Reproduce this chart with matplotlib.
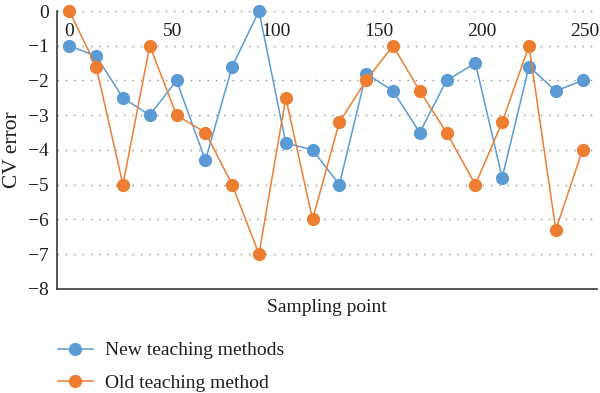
import matplotlib
matplotlib.use("Agg")
import matplotlib.pyplot as plt

# sampling points and CV error for the two series
sampling_points = [0, 13, 26, 39, 52, 66, 79, 92, 105, 118,
                   131, 144, 157, 170, 183, 197, 210, 223, 236, 249]
new_method = [-1, -1.3, -2.5, -3, -2, -4.3, -1.6, 0, -3.8, -4,
              -5, -1.8, -2.3, -3.5, -2, -1.5, -4.8, -1.6, -2.3, -2]
old_method = [0, -1.6, -5, -1, -3, -3.5, -5, -7, -2.5, -6,
              -3.2, -2, -1, -2.3, -3.5, -5, -3.2, -1, -6.3, -4]
x_ticks = [0, 50, 100, 150, 200, 250]
y_ticks = [0, -1, -2, -3, -4, -5, -6, -7, -8]

BLUE = "#5B9BD5"
ORANGE = "#ED7D31"

plt.rcParams["font.family"] = ["Liberation Serif", "DejaVu Serif"]

fig = plt.figure(figsize=(6, 3.93), dpi=100)
ax = fig.add_axes([0.095, 0.265, 0.9, 0.707])

ax.plot(sampling_points, new_method, color=BLUE, lw=1.1, marker="o",
        ms=8.5, label="New teaching methods", zorder=3, clip_on=False)
ax.plot(sampling_points, old_method, color=ORANGE, lw=1.1, marker="o",
        ms=8.5, label="Old teaching method", zorder=3, clip_on=False)

ax.set_xlim(-6, 256)
ax.set_ylim(-8, 0)
ax.set_yticks(y_ticks)
ax.set_yticklabels([f"\u2212{-v}" if v else "0" for v in y_ticks])
ax.set_xticks(x_ticks)

# x labels sit just under the zero line, inside the plot
ax.xaxis.set_ticks_position("top")
ax.tick_params(axis="x", length=0, pad=-21, labelsize=14, colors="#231f20")
ax.tick_params(axis="y", length=0, pad=6, labelsize=14, colors="#231f20")

for y in y_ticks[:-1]:
    ax.axhline(y, color="#8c8c8c", lw=1.0, ls=(0, (1, 5)), zorder=1)

for side in ["top", "right"]:
    ax.spines[side].set_visible(False)
for side in ["left", "bottom"]:
    ax.spines[side].set_color("#3a3a3a")
    ax.spines[side].set_linewidth(1.2)

ax.set_ylabel("CV error", fontsize=15.5, color="#231f20", labelpad=4)
fig.text(0.545, 0.218, "Sampling point", fontsize=14, color="#231f20",
         ha="center", va="center")

fig.legend(loc="upper left", bbox_to_anchor=(0.067, 0.175), frameon=False,
           fontsize=14, handlelength=1.8, handletextpad=0.65,
           labelspacing=0.75, labelcolor="#231f20")

fig.savefig("out.png", dpi=100)
